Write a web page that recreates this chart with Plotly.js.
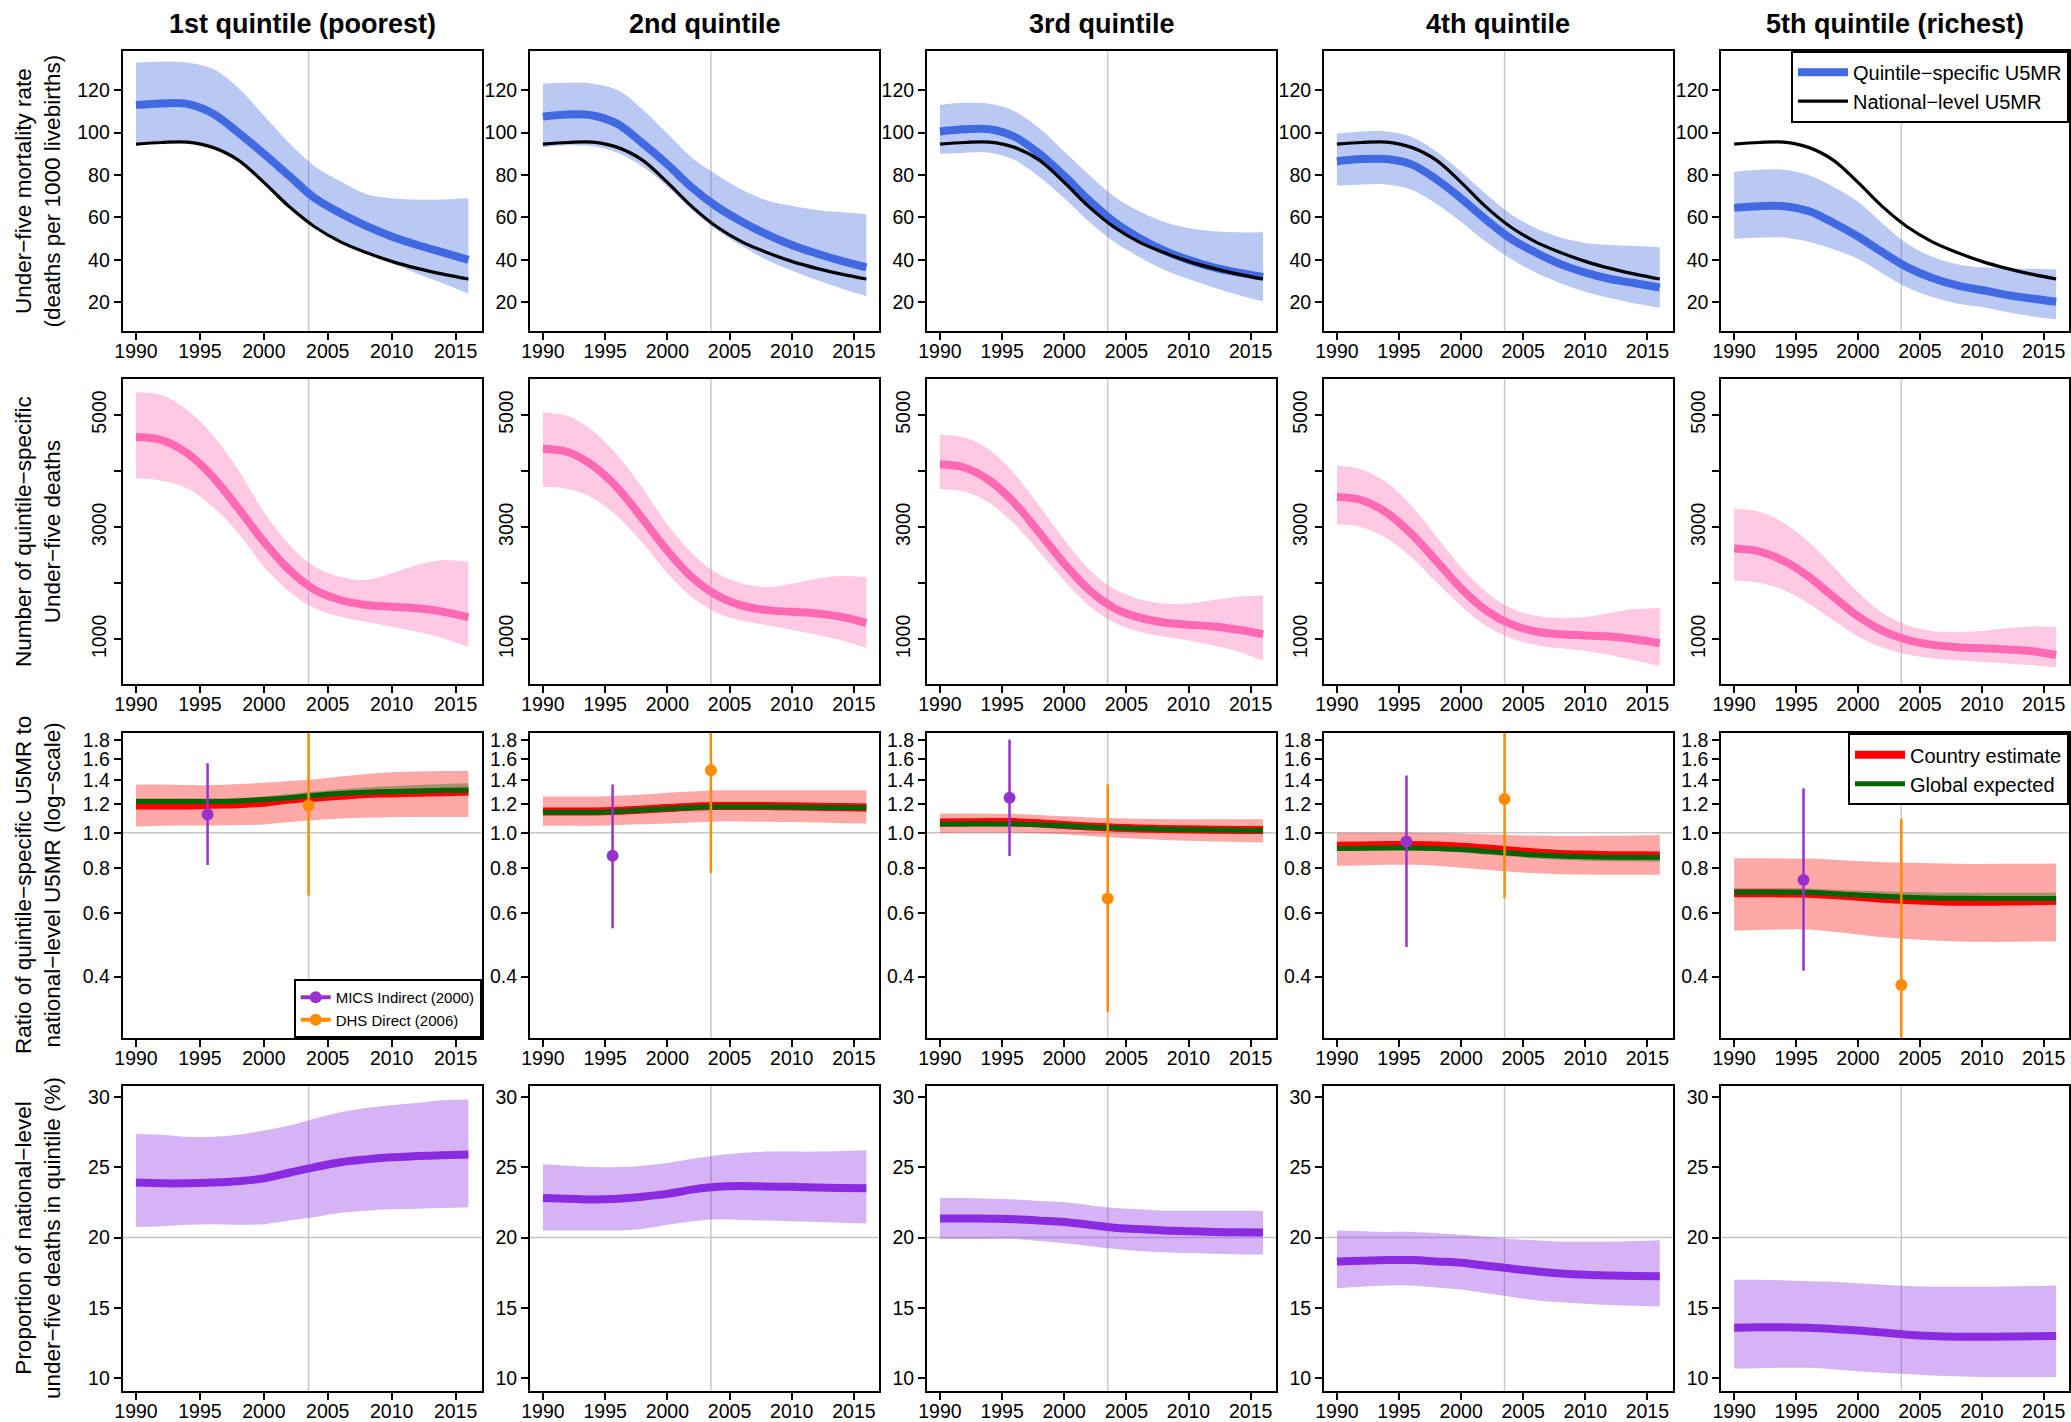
<!DOCTYPE html>
<html><head><meta charset="utf-8">
<script src="https://cdn.plot.ly/plotly-3.0.1.min.js"></script>
<style>html,body{margin:0;padding:0;background:#fff}#chart{width:2071px;height:1422px}</style>
</head><body><div id="chart"></div>
<script>
// ---------- DATA ----------
const years = [1990,1992,1994,1996,1998,2000,2002,2004,2006,2008,2010,2012,2014,2016];
const refYear = 2003.5;
const quintileTitles = ['1st quintile (poorest)','2nd quintile','3rd quintile','4th quintile','5th quintile (richest)'];
const rowTitles = [
  'Under\u2212five mortality rate<br>(deaths per 1000 livebirths)',
  'Number of quintile\u2212specific<br>Under\u2212five deaths',
  'Ratio of quintile\u2212specific U5MR to<br>national\u2212level U5MR (log\u2212scale)',
  'Proportion of national\u2212level<br>under\u2212five deaths in quintile (%)'
];

// Row 1: U5MR
const u5mrNational = [94.5,95.3,95.5,93,87,76.5,65,55.5,48.5,43.5,39.3,36,33.3,31];
const u5mrMid = [
  [113,113.7,113.5,109,100,90,79.5,69,62,56,51,47,43.5,40],
  [107.5,108.5,108,104,95,85,74,65,58,52,47,43,39.5,36.5],
  [100.5,101.5,101.5,98,90,79.5,68,58,50.5,44.5,40,36.5,34,32],
  [86.5,87.5,87.5,85,78,69,59,50,43.5,38,34,31,29,27],
  [64.5,65.3,65.3,63,57.5,51,43.5,36.5,31.5,28,25.8,23.5,21.8,20.3]
];
const u5mrHi = [
  [133,133.3,133,130,121,108,95,84,77,71,69,68.3,68.5,69],
  [123,123.5,123,120,111,99.5,88,80,73,68,65.5,63.5,62.5,61.5],
  [113,114,113.5,110,102,91,80,70,63,58,55,53.5,53,53],
  [99.5,100.5,100.5,98,91,81.5,71,61.5,55,50.5,48,47,46.5,46],
  [81.5,82.5,82.5,80,74.5,67.5,57,47.5,41.5,38,36.5,36,35.8,35.5]
];
const u5mrLo = [
  [95.5,96,96,93.5,87.5,77,66,56.5,49,43,38.5,33.5,29,24],
  [93,94,93.5,90.5,84,74.5,63.5,54,46.5,40,35,30.5,26.5,23],
  [90,90.5,90.5,87,79,69,58,48.5,41.5,35.5,31,27,23.5,20.5],
  [75,75.5,75.5,73,66.5,58,48.5,40.5,34,29,25,22,19.5,17.5],
  [50,50.5,50.5,48.5,45,40.5,33.5,27,22.5,19.5,17.8,15.5,13.5,12]
];

// Row 2: number of deaths
const deathsMid = [
  [4608,4554,4317,3900,3336,2741,2236,1880,1701,1612,1582,1553,1493,1393],
  [4400,4340,4100,3700,3150,2580,2100,1780,1600,1520,1490,1460,1400,1290],
  [4120,4060,3830,3430,2900,2350,1880,1560,1390,1300,1260,1230,1170,1090],
  [3540,3480,3260,2880,2400,1910,1520,1270,1140,1090,1070,1050,1000,930],
  [2620,2570,2400,2120,1760,1410,1150,990,900,860,840,820,790,720]
];
const deathsHi = [
  [5405,5357,5089,4643,4019,3276,2682,2295,2117,2058,2177,2325,2414,2384],
  [5050,4980,4720,4280,3700,3050,2530,2180,2000,1930,1990,2080,2130,2110],
  [4650,4600,4380,3950,3380,2780,2250,1900,1720,1640,1640,1700,1760,1780],
  [4100,4030,3800,3380,2840,2290,1850,1560,1420,1380,1400,1470,1540,1560],
  [3330,3280,3080,2740,2300,1840,1470,1250,1150,1130,1150,1200,1230,1220]
];
const deathsLo = [
  [3871,3829,3693,3365,2890,2295,1850,1553,1403,1314,1225,1136,1018,858],
  [3720,3680,3520,3190,2720,2180,1750,1470,1330,1250,1170,1080,980,850],
  [3680,3630,3430,3050,2560,2050,1600,1300,1140,1050,980,890,780,620],
  [3050,3000,2800,2460,2020,1590,1240,1020,900,840,790,720,620,520],
  [2050,2010,1880,1640,1340,1050,850,730,660,620,600,570,540,500]
];

// Row 3: ratio (country estimate and global expected)
const ratioMid = [
  [1.19,1.19,1.19,1.195,1.20,1.21,1.235,1.25,1.265,1.28,1.285,1.29,1.295,1.30],
  [1.145,1.145,1.145,1.15,1.16,1.17,1.18,1.185,1.185,1.185,1.183,1.18,1.178,1.175],
  [1.068,1.069,1.07,1.07,1.062,1.05,1.04,1.033,1.028,1.024,1.022,1.02,1.018,1.017],
  [0.92,0.922,0.925,0.925,0.922,0.915,0.905,0.893,0.882,0.874,0.87,0.867,0.866,0.865],
  [0.68,0.68,0.679,0.678,0.672,0.665,0.657,0.651,0.647,0.644,0.644,0.645,0.646,0.648]
];
const ratioHi = [
  [1.36,1.36,1.355,1.355,1.365,1.375,1.39,1.405,1.43,1.455,1.47,1.478,1.483,1.485],
  [1.26,1.26,1.26,1.265,1.275,1.29,1.30,1.31,1.31,1.31,1.31,1.31,1.31,1.31],
  [1.13,1.13,1.129,1.128,1.12,1.11,1.102,1.097,1.094,1.092,1.09,1.09,1.09,1.09],
  [1.0,1.0,1.0,1.0,0.998,0.995,0.99,0.985,0.982,0.98,0.98,0.981,0.983,0.985],
  [0.85,0.85,0.849,0.848,0.842,0.835,0.829,0.826,0.823,0.821,0.82,0.821,0.821,0.822]
];
const ratioLo = [
  [1.04,1.045,1.047,1.048,1.05,1.054,1.07,1.085,1.095,1.1,1.103,1.105,1.106,1.106],
  [1.045,1.045,1.045,1.05,1.055,1.06,1.068,1.075,1.075,1.072,1.07,1.067,1.063,1.06],
  [0.998,1.0,1.0,1.0,0.995,0.99,0.98,0.97,0.962,0.955,0.95,0.946,0.943,0.94],
  [0.81,0.812,0.815,0.815,0.81,0.8,0.79,0.78,0.772,0.768,0.766,0.765,0.765,0.765],
  [0.536,0.538,0.54,0.54,0.532,0.523,0.514,0.508,0.503,0.5,0.499,0.499,0.5,0.5]
];
const globalMid = [
  [1.22,1.22,1.22,1.22,1.225,1.235,1.25,1.27,1.285,1.295,1.30,1.305,1.31,1.31],
  [1.14,1.14,1.14,1.145,1.155,1.165,1.175,1.18,1.18,1.18,1.178,1.176,1.174,1.172],
  [1.057,1.058,1.058,1.057,1.052,1.045,1.038,1.032,1.027,1.023,1.02,1.018,1.016,1.015],
  [0.905,0.906,0.908,0.908,0.905,0.898,0.888,0.877,0.868,0.862,0.858,0.856,0.855,0.855],
  [0.684,0.684,0.684,0.683,0.678,0.672,0.667,0.663,0.66,0.659,0.658,0.658,0.658,0.658]
];
const globalHi = [
  [1.245,1.245,1.245,1.245,1.25,1.26,1.28,1.30,1.32,1.335,1.345,1.355,1.365,1.37],
  [1.16,1.16,1.16,1.165,1.175,1.185,1.197,1.205,1.207,1.208,1.208,1.207,1.206,1.205],
  [1.075,1.076,1.076,1.075,1.07,1.064,1.058,1.053,1.05,1.047,1.045,1.043,1.042,1.041],
  [0.92,0.921,0.923,0.923,0.92,0.914,0.905,0.895,0.888,0.883,0.88,0.879,0.879,0.88],
  [0.702,0.702,0.702,0.701,0.697,0.692,0.688,0.685,0.683,0.682,0.682,0.682,0.682,0.683]
];
const globalLo = [
  [1.20,1.20,1.20,1.20,1.205,1.21,1.225,1.24,1.25,1.255,1.26,1.262,1.264,1.265],
  [1.12,1.12,1.12,1.125,1.135,1.145,1.155,1.158,1.157,1.155,1.152,1.149,1.146,1.143],
  [1.04,1.04,1.04,1.039,1.034,1.027,1.019,1.012,1.005,1.0,0.996,0.993,0.991,0.99],
  [0.89,0.891,0.893,0.893,0.89,0.882,0.871,0.859,0.849,0.842,0.837,0.834,0.832,0.831],
  [0.667,0.667,0.667,0.666,0.66,0.653,0.647,0.642,0.638,0.636,0.635,0.634,0.634,0.634]
];
// Survey data points (plotted at reference dates)
const micsYear = 1995.6;
const dhsYear = 2003.5;
const micsVal = [1.124,0.863,1.25,0.946,0.74];
const micsLo  = [0.814,0.544,0.862,0.483,0.415];
const micsHi  = [1.556,1.36,1.81,1.44,1.327];
const dhsVal  = [1.19,1.49,0.658,1.24,0.379];
const dhsLo   = [0.67,0.774,0.319,0.66,0.2];
const dhsHi   = [2.5,2.5,1.36,2.5,1.093];

// Row 4: proportion of deaths
const propMid = [
  [23.9,23.85,23.85,23.9,24.0,24.2,24.6,25.0,25.35,25.55,25.7,25.78,25.85,25.9],
  [22.8,22.75,22.7,22.75,22.9,23.1,23.4,23.6,23.65,23.62,23.6,23.55,23.52,23.5],
  [21.35,21.35,21.33,21.3,21.2,21.1,20.9,20.7,20.6,20.5,20.45,20.4,20.37,20.35],
  [18.3,18.35,18.4,18.4,18.3,18.2,18.0,17.8,17.6,17.45,17.35,17.3,17.27,17.25],
  [13.6,13.62,13.63,13.6,13.5,13.4,13.25,13.1,13.0,12.95,12.95,12.97,12.98,13.0]
];
const propHi = [
  [27.35,27.3,27.15,27.15,27.3,27.6,27.95,28.45,28.9,29.2,29.4,29.55,29.75,29.8],
  [25.2,25.1,25.0,25.0,25.1,25.3,25.6,25.85,26.0,26.1,26.1,26.1,26.15,26.2],
  [22.8,22.8,22.75,22.7,22.6,22.5,22.3,22.1,22.0,21.9,21.9,21.9,21.9,21.9],
  [20.5,20.45,20.4,20.4,20.3,20.2,20.05,19.9,19.8,19.7,19.7,19.7,19.75,19.8],
  [17.0,17.0,16.95,16.9,16.85,16.75,16.65,16.55,16.5,16.5,16.5,16.52,16.55,16.6]
];
const propLo = [
  [20.75,20.8,20.9,20.95,20.9,20.95,21.2,21.45,21.75,21.9,22.0,22.05,22.1,22.15],
  [20.5,20.5,20.5,20.5,20.6,20.9,21.15,21.3,21.25,21.2,21.15,21.1,21.05,21.0],
  [19.9,19.9,19.9,19.9,19.75,19.6,19.4,19.2,19.05,18.95,18.9,18.85,18.82,18.8],
  [16.4,16.5,16.6,16.6,16.45,16.3,16.05,15.8,15.55,15.4,15.3,15.2,15.15,15.1],
  [10.7,10.72,10.75,10.75,10.65,10.5,10.4,10.3,10.2,10.15,10.1,10.1,10.1,10.1]
];

// Ticks
const yearTicks = [1990,1995,2000,2005,2010,2015];
const u5mrTicks = [20,40,60,80,100,120];
const deathTicks = [1000,2000,3000,4000,5000];
const deathTickText = ['1000','','3000','','5000'];
const ratioTicks = [0.4,0.6,0.8,1.0,1.2,1.4,1.6,1.8];
const ratioTickText = ['0.4','0.6','0.8','1.0','1.2','1.4','1.6','1.8'];
const propTicks = [10,15,20,25,30];

// ---------- STYLE ----------
const FONT = 'Liberation Sans, Arial, Helvetica, sans-serif';
const W = 2071, H = 1422;
const colPx = [[122.7,481.7],[530,879.3],[927,1276],[1324,1672.7],[1721.3,2069]];
const rowPx = [[51,331],[379,684],[733,1038],[1086,1391]];
const C = {
  blue:'#4169E1', blueBand:'rgba(65,105,225,0.36)',
  pink:'#FF69B4', pinkBand:'rgba(255,105,180,0.36)',
  red:'#FF0000', redBand:'rgba(255,0,0,0.34)',
  green:'#006400', greenBand:'rgba(0,100,0,0.35)',
  purple:'#8A2BE2', purpleBand:'rgba(138,43,226,0.36)',
  mics:'#9932CC', dhs:'#FF8C00', ref:'#C8C8C8'
};

const traces = [];
function ax(r,c){ const n=r*5+c+1; return n===1?'':String(n); }
function band(s, lo, hi, color){
  traces.push({x:years, y:lo, xaxis:'x'+s, yaxis:'y'+s, mode:'lines', line:{width:0, shape:'spline', color:color}, hoverinfo:'skip', showlegend:false});
  traces.push({x:years, y:hi, xaxis:'x'+s, yaxis:'y'+s, mode:'lines', line:{width:0, shape:'spline', color:color}, fill:'tonexty', fillcolor:color, hoverinfo:'skip', showlegend:false});
}
function line(s, y, color, width, name, legend, show){
  traces.push({x:years, y:y, xaxis:'x'+s, yaxis:'y'+s, mode:'lines', name:name, legend:legend,
    line:{color:color, width:width, shape:'spline'}, showlegend:!!show, hoverinfo:'skip'});
}
function point(s, xv, v, lo, hi, color, name, show){
  traces.push({x:[xv], y:[v], xaxis:'x'+s, yaxis:'y'+s, mode:'lines+markers', name:name, legend:'legend3',
    marker:{size:12, color:color}, line:{color:color, width:4},
    error_y:{type:'data', symmetric:false, array:[hi-v], arrayminus:[v-lo], color:color, thickness:2.5, width:0},
    showlegend:!!show, hoverinfo:'skip'});
}

for (let q=0;q<5;q++){
  // row 1
  let s = ax(0,q);
  band(s, u5mrLo[q], u5mrHi[q], C.blueBand);
  line(s, u5mrMid[q], C.blue, 8, 'Quintile\u2212specific U5MR', 'legend', q===4);
  line(s, u5mrNational, '#000', 3.2, 'National\u2212level U5MR', 'legend', q===4);
  // row 2
  s = ax(1,q);
  band(s, deathsLo[q], deathsHi[q], C.pinkBand);
  line(s, deathsMid[q], C.pink, 8, 'deaths', 'legend', false);
  // row 3
  s = ax(2,q);
  band(s, ratioLo[q], ratioHi[q], C.redBand);
  band(s, globalLo[q], globalHi[q], C.greenBand);
  line(s, ratioMid[q], C.red, 8, 'Country estimate', 'legend2', q===4);
  line(s, globalMid[q], C.green, 5, 'Global expected', 'legend2', q===4);
  point(s, micsYear, micsVal[q], micsLo[q], micsHi[q], C.mics, 'MICS Indirect (2000)', q===0);
  point(s, dhsYear, dhsVal[q], dhsLo[q], dhsHi[q], C.dhs, 'DHS Direct (2006)', q===0);
  // row 4
  s = ax(3,q);
  band(s, propLo[q], propHi[q], C.purpleBand);
  line(s, propMid[q], C.purple, 8, 'proportion', 'legend', false);
}

const layout = {
  width:W, height:H, margin:{l:0,r:0,t:0,b:0},
  paper_bgcolor:'#fff', plot_bgcolor:'#fff',
  font:{family:FONT, color:'#000'},
  annotations:[], shapes:[],
  legend:{x:2069/W, xanchor:'right', y:1-50.7/H, yanchor:'top', bgcolor:'#fff', bordercolor:'#000', borderwidth:2,
    font:{size:20, family:FONT}, itemwidth:50, traceorder:'normal', tracegroupgap:0},
  legend2:{x:2069/W, xanchor:'right', y:1-733.3/H, yanchor:'top', bgcolor:'#fff', bordercolor:'#000', borderwidth:2,
    font:{size:20, family:FONT}, itemwidth:50, traceorder:'normal', tracegroupgap:0},
  legend3:{x:481.7/W, xanchor:'right', y:1-1038/H, yanchor:'bottom', bgcolor:'#fff', bordercolor:'#000', borderwidth:2,
    font:{size:15, family:FONT}, itemwidth:30, traceorder:'normal', tracegroupgap:0}
};
const yAxisSpec = [
  {range:[6.5,138.4], tickvals:u5mrTicks},
  {range:[203,5642], tickvals:deathTicks, ticktext:deathTickText, tickangle:-90},
  {type:'log', range:[-0.568,0.276], tickvals:ratioTicks, ticktext:ratioTickText},
  {range:[9.1,30.76], tickvals:propTicks}
];
const common = {ticks:'outside', ticklen:7, tickwidth:2, tickcolor:'#000', showline:true, mirror:true,
  linecolor:'#000', linewidth:2, showgrid:false, zeroline:false, tickfont:{size:19.5, family:FONT, color:'#000'},
  fixedrange:true, automargin:false};
for (let r=0;r<4;r++){
  for (let c=0;c<5;c++){
    const s = ax(r,c);
    layout['xaxis'+s] = Object.assign({}, common, {domain:[colPx[c][0]/W, colPx[c][1]/W], anchor:'y'+s,
      range:[1988.96,2017.04], tickvals:yearTicks, ticklabelstandoff:-5});
    layout['yaxis'+s] = Object.assign({}, common, {domain:[1-rowPx[r][1]/H, 1-rowPx[r][0]/H], anchor:'x'+s}, yAxisSpec[r]);
    layout.shapes.push({type:'line', layer:'below', xref:'x'+s, yref:'y'+s+' domain', x0:refYear, x1:refYear, y0:0, y1:1,
      line:{color:C.ref, width:1.5}});
    if (r===2) layout.shapes.push({type:'line', layer:'below', xref:'x'+s+' domain', yref:'y'+s, x0:0, x1:1, y0:1, y1:1, line:{color:C.ref, width:1.5}});
    if (r===3) layout.shapes.push({type:'line', layer:'below', xref:'x'+s+' domain', yref:'y'+s, x0:0, x1:1, y0:20, y1:20, line:{color:C.ref, width:1.5}});
  }
}
for (let c=0;c<5;c++){
  layout.annotations.push({text:'<b>'+quintileTitles[c]+'</b>', xref:'paper', yref:'paper',
    x:(colPx[c][0]+colPx[c][1])/2/W, y:1-24/H, xanchor:'center', yanchor:'middle', showarrow:false,
    font:{size:27, family:FONT, color:'#000'}});
}
for (let r=0;r<4;r++){
  layout.annotations.push({text:rowTitles[r], xref:'paper', yref:'paper', textangle:-90,
    x:37.5/W, y:1-(rowPx[r][0]+rowPx[r][1])/2/H, xanchor:'center', yanchor:'middle', showarrow:false,
    font:{size:22.5, family:FONT, color:'#000'}});
}
Plotly.newPlot('chart', traces, layout, {displayModeBar:false, staticPlot:true});
</script>
</body></html>
